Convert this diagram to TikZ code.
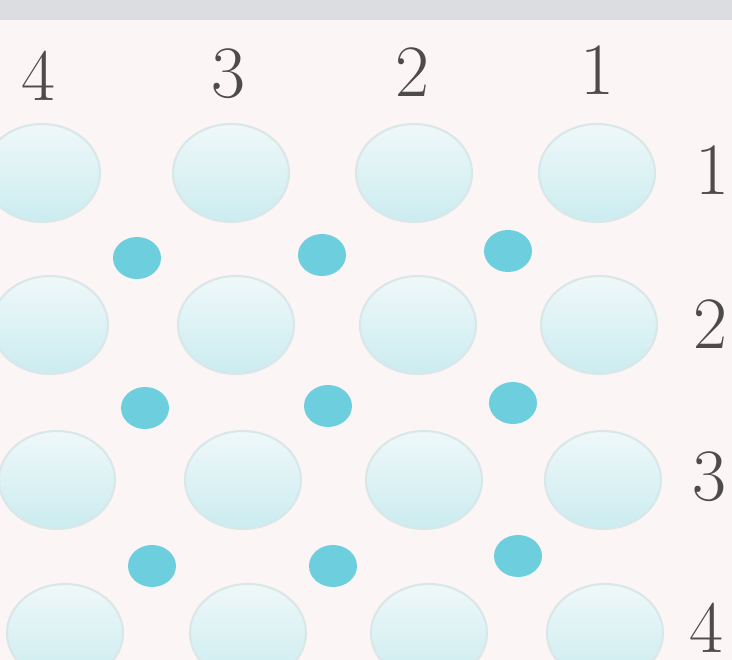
\documentclass[tikz,border=0pt]{standalone}
\usepackage{tikz}
\definecolor{paper}{HTML}{FCF5F5}
\definecolor{band}{HTML}{DCDDE0}
\definecolor{celltop}{HTML}{EFF8F9}
\definecolor{cellbot}{HTML}{CBECF0}
\definecolor{celledge}{HTML}{DAE7E9}
\definecolor{ion}{HTML}{6DCFDE}
\definecolor{ink}{HTML}{4D4B4C}

\begin{document}
\begin{tikzpicture}[x=0.01cm, y=0.01cm,
    cell/.style={top color=celltop, bottom color=cellbot, draw=celledge, line width=0.6pt},
    ion/.style={fill=ion},
    lbl/.style={text=ink, font=\fontsize{21}{21}\selectfont, inner sep=0pt}]

    % sizes (pixel units, y counted from the top edge)
    \def\W{732}     % picture width
    \def\H{660}     % picture height
    \def\aCell{58}  % large ellipse x-radius
    \def\bCell{49}  % large ellipse y-radius
    \def\aIon{24}   % small dot x-radius
    \def\bIon{21}   % small dot y-radius

    % paper and grey band
    \useasboundingbox (0,0) rectangle (\W,\H);
    \fill[paper] (0,0) rectangle (\W,\H);
    \fill[band] (0,\H-20) rectangle (\W,\H);

    % large ellipses, row by row (cut at the paper edges)
    \begin{scope}
    \clip (0,0) rectangle (\W,\H-20);
    \foreach \x/\y in {42/173, 231/173, 414/173, 597/173,
                       50/325, 236/325, 418/325, 599/325,
                       57/480, 243/480, 424/480, 603/480,
                       65/633, 248/633, 429/633, 605/633}
        \path[cell] (\x,\H-\y) ellipse [x radius=\aCell, y radius=\bCell];
    \end{scope}

    % small dots between the rows
    \foreach \x/\y in {137/258, 322/255, 508/251,
                       145/408, 328/406, 513/403,
                       152/566, 333/566, 518/556}
        \fill[ion] (\x,\H-\y) ellipse [x radius=\aIon, y radius=\bIon];

    % column numbers
    \node[lbl] (c4) at (38,\H-76) {4};
    \node[lbl] (c3) at (228,\H-74) {3};
    \node[lbl] (c2) at (412,\H-72) {2};
    \node[lbl] (c1) at (597,\H-70) {1};

    % row numbers
    \node[lbl] (r1) at (712,\H-170) {1};
    \node[lbl] (r2) at (710,\H-324) {2};
    \node[lbl] (r3) at (709,\H-477) {3};
    \node[lbl] (r4) at (706,\H-628) {4};

\end{tikzpicture}
\end{document}
